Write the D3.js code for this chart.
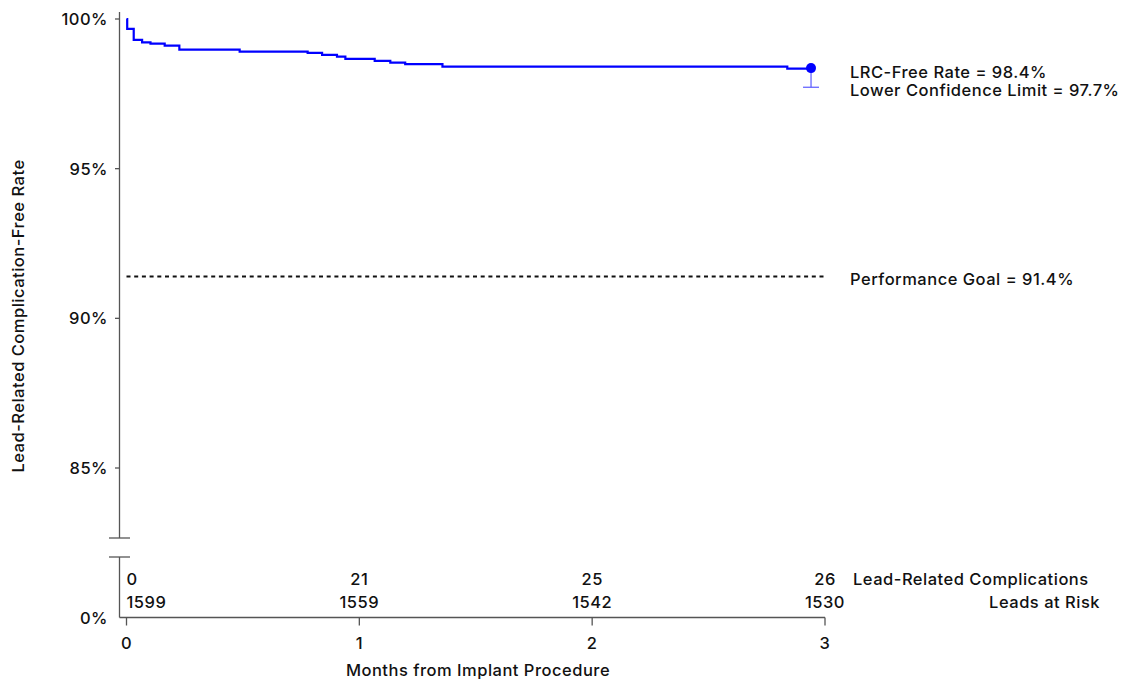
<!DOCTYPE html>
<html>
<head>
<meta charset="utf-8">
<script src="https://cdn.jsdelivr.net/npm/d3@7"></script>
<style>
  body { margin: 0; background: #fff; }
  svg text { font-family: Inter, "Liberation Sans", Arial, sans-serif; font-size: 16.5px; font-weight: 500; fill: #111; letter-spacing: 0.5px; }
</style>
</head>
<body>
<svg></svg>
<script>
const width = 1138;
const height = 679;

// Kaplan-Meier steps (months, % free of lead-related complications)
const stepMonths = [0, 0.003, 0.031, 0.067, 0.103, 0.164, 0.227, 0.486, 0.778, 0.840, 0.904, 0.940, 1.066, 1.133, 1.197, 1.357, 2.838, 2.94];
const stepRates  = [100, 99.67, 99.30, 99.22, 99.18, 99.11, 98.98, 98.91, 98.87, 98.80, 98.74, 98.67, 98.60, 98.54, 98.49, 98.41, 98.34, 98.34];

const endMonth = 2.94;
const endRate = 98.36;
const lowerLimit = 97.72;
const perfGoal = 91.4;

const yTicks = [100, 95, 90, 85];
const xTicks = [0, 1, 2, 3];
const riskMonths = [0, 1, 2, 3];
const complications = [0, 21, 25, 26];
const leadsAtRisk = [1599, 1559, 1542, 1530];

const svg = d3.select('svg')
    .attr('width', width)
    .attr('height', height);

const xScale = d3.scaleLinear().domain([0, 3]).range([126.5, 825]);
const yScale = d3.scaleLinear().domain([85, 100]).range([468, 19]);
const yBase = 617.5;   // 0% line, below the axis break
const axisX = 119.5;

// y axis, top part with break
svg.append('line')
    .attr('x1', axisX).attr('x2', axisX)
    .attr('y1', 12).attr('y2', 538)
    .attr('stroke', '#555').attr('stroke-width', 1.3);
svg.append('line')
    .attr('x1', axisX).attr('x2', axisX)
    .attr('y1', 557).attr('y2', yBase)
    .attr('stroke', '#555').attr('stroke-width', 1.3);
[538, 557].forEach(y => {
  svg.append('line')
      .attr('x1', 109).attr('x2', 130)
      .attr('y1', y).attr('y2', y)
      .attr('stroke', '#555').attr('stroke-width', 1.3);
});

const yAxis = svg.append('g');
yAxis.selectAll('line').data(yTicks).enter().append('line')
    .attr('x1', 115).attr('x2', axisX)
    .attr('y1', d => yScale(d)).attr('y2', d => yScale(d))
    .attr('stroke', '#555').attr('stroke-width', 1.3);
yAxis.selectAll('text').data(yTicks).enter().append('text')
    .attr('x', 108).attr('y', d => yScale(d) + 6)
    .attr('text-anchor', 'end')
    .text(d => d + '%');
svg.append('text')
    .attr('x', 108).attr('y', yBase + 6)
    .attr('text-anchor', 'end')
    .text('0%');

svg.append('text')
    .attr('transform', 'translate(24, 316) rotate(-90)')
    .attr('text-anchor', 'middle')
    .text('Lead-Related Complication-Free Rate');

// x axis
svg.append('line')
    .attr('x1', axisX).attr('x2', xScale(3))
    .attr('y1', yBase).attr('y2', yBase)
    .attr('stroke', '#555').attr('stroke-width', 1.3);
const xAxis = svg.append('g');
xAxis.selectAll('line').data(xTicks).enter().append('line')
    .attr('x1', d => xScale(d)).attr('x2', d => xScale(d))
    .attr('y1', yBase).attr('y2', yBase + 8)
    .attr('stroke', '#555').attr('stroke-width', 1.3);
xAxis.selectAll('text').data(xTicks).enter().append('text')
    .attr('x', d => xScale(d)).attr('y', yBase + 31)
    .attr('text-anchor', 'middle')
    .text(d => d);
svg.append('text')
    .attr('x', 478).attr('y', 676)
    .attr('text-anchor', 'middle')
    .text('Months from Implant Procedure');

// numbers at risk table
const anchorFor = (d, i) => i === 0 ? 'start' : 'middle';
svg.selectAll('.comp').data(complications).enter().append('text')
    .attr('class', 'comp')
    .attr('x', (d, i) => xScale(riskMonths[i]))
    .attr('y', 585)
    .attr('text-anchor', anchorFor)
    .text(d => d);
svg.selectAll('.risk').data(leadsAtRisk).enter().append('text')
    .attr('class', 'risk')
    .attr('x', (d, i) => xScale(riskMonths[i]))
    .attr('y', 608)
    .attr('text-anchor', anchorFor)
    .text(d => d);
svg.append('text').attr('x', 853).attr('y', 585).text('Lead-Related Complications');
svg.append('text').attr('x', 1100).attr('y', 608).attr('text-anchor', 'end').text('Leads at Risk');

// performance goal
svg.append('line')
    .attr('x1', xScale(0)).attr('x2', xScale(3))
    .attr('y1', yScale(perfGoal)).attr('y2', yScale(perfGoal))
    .attr('stroke', '#111').attr('stroke-width', 2)
    .attr('stroke-dasharray', '4,3.7');
svg.append('text')
    .attr('x', 850).attr('y', yScale(perfGoal) + 9)
    .text('Performance Goal = ' + perfGoal + '%');

// KM curve
const kmData = stepMonths.map((m, i) => ({m, r: stepRates[i]}));
const line = d3.line()
    .x(d => xScale(d.m))
    .y(d => yScale(d.r))
    .curve(d3.curveStepAfter);
svg.append('path')
    .datum(kmData)
    .attr('d', line)
    .attr('fill', 'none')
    .attr('stroke', '#0000ff')
    .attr('stroke-width', 2.2);

// end point with lower confidence limit
svg.append('line')
    .attr('x1', xScale(endMonth)).attr('x2', xScale(endMonth))
    .attr('y1', yScale(endRate)).attr('y2', yScale(lowerLimit))
    .attr('stroke', '#5a5aff').attr('stroke-width', 1.2);
svg.append('line')
    .attr('x1', xScale(endMonth) - 8).attr('x2', xScale(endMonth) + 8)
    .attr('y1', yScale(lowerLimit)).attr('y2', yScale(lowerLimit))
    .attr('stroke', '#5a5aff').attr('stroke-width', 1.2);
svg.append('circle')
    .attr('cx', xScale(endMonth)).attr('cy', yScale(endRate))
    .attr('r', 5).attr('fill', '#0000ff');

svg.append('text').attr('x', 850).attr('y', 78).text('LRC-Free Rate = ' + endRate.toFixed(1) + '%');
svg.append('text').attr('x', 850).attr('y', 96).text('Lower Confidence Limit = ' + lowerLimit.toFixed(1) + '%');
</script>
</body>
</html>
